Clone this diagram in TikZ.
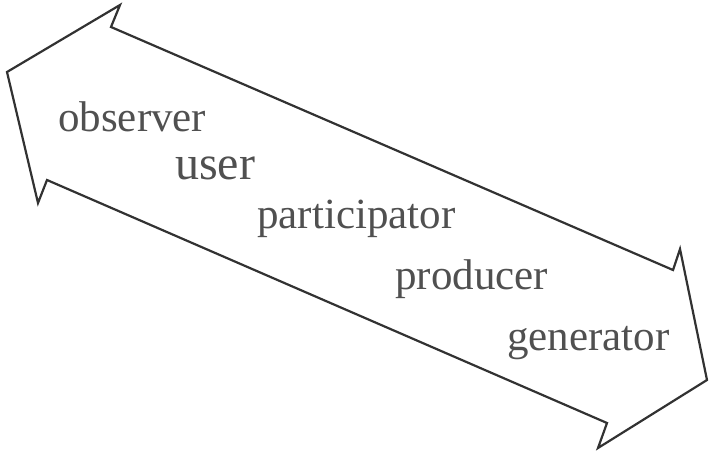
\documentclass[tikz,border=0pt]{standalone}
\usepackage{fontspec}
\setmainfont{Liberation Serif}
\usetikzlibrary{positioning}
\definecolor{inkline}{RGB}{50,50,50}
\definecolor{inktext}{RGB}{80,80,80}
\tikzset{
  outline/.style ={draw=inkline, line width=2.2pt, line join=miter},
  role/.style    ={anchor=base west, inner sep=0pt, text=inktext,
                   font=\fontsize{43}{50}\selectfont},
  rolebig/.style ={role, font=\fontsize{48}{56}\selectfont},
}
\begin{document}
\begin{tikzpicture}[x=1pt, y=-1pt]
  \useasboundingbox (0,0) rectangle (709,454);

  % double-headed block arrow
  \draw[outline] (7,72) -- (120,5) -- (111,27) -- (673,270) -- (680,249)
    -- (707,380) -- (598,448) -- (607,423) -- (47,180) -- (38,203) -- cycle;

  \node[role]    (obs)  at (58,132)  {observer};
  \node[rolebig] (usr)  at (175,180) {user};
  \node[role]    (part) at (257,229) {participator};
  \node[role]    (prod) at (395,290) {producer};
  \node[role]    (gen)  at (507,350) {generator};
\end{tikzpicture}
\end{document}
